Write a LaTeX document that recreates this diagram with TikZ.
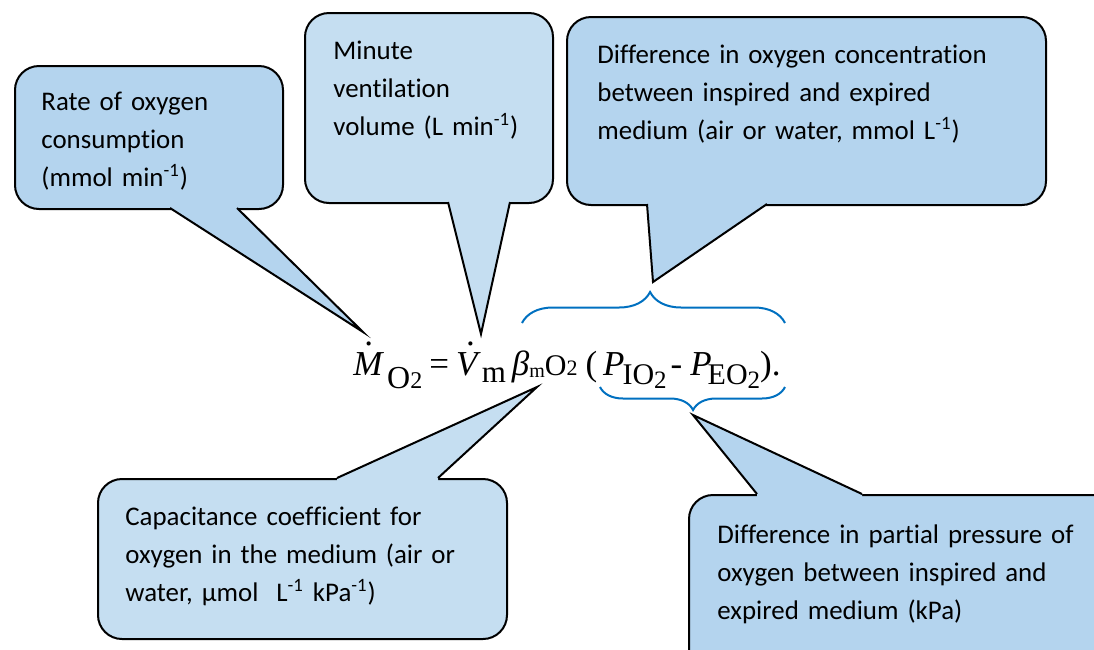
\documentclass[tikz,border=0pt]{standalone}
\usepackage{fontspec}
\setmainfont[Ligatures=NoCommon]{Carlito}
\newfontfamily\eqfont{Liberation Serif}
\usetikzlibrary{decorations.pathreplacing}

\definecolor{calloutblue}{RGB}{180,212,238}
\definecolor{calloutpale}{RGB}{197,222,241}
\definecolor{braceblue}{RGB}{0,112,192}

% a lowered piece of the equation: drop, size, text
\newcommand{\lowered}[3]{\raisebox{-#1}{\fontsize{#2}{#2}\selectfont #3}}
% a dot over a letter: kern, letter
\newcommand{\dotover}[2]{\rlap{\kern#1\raisebox{15pt}{.}}\textit{#2}}
% pointer of a callout: fill colour, base, tip, base, inward shift
\newcommand{\pointer}[5]{%
  \fill[#1] (#2) -- (#3) -- (#4) -- ([yshift=#5]#4) -- ([yshift=#5]#2) -- cycle;
  \draw[line width=1pt, line join=miter] (#2) -- (#3) -- (#4);
}

\begin{document}
\begin{tikzpicture}[x=0.5pt, y=-0.5pt,
  callbox/.style={draw=black, line width=1pt, rounded corners=12pt, inner sep=0pt, anchor=north west},
  calltext/.style={text width=#1, align=left, anchor=base west, inner sep=0pt, font=\fontsize{13.45}{19.2}\selectfont},
  curly/.style={draw=braceblue, line width=1pt, decorate}
]
\useasboundingbox (0,0) rectangle (1094,649);
\clip (0,0) rectangle (1094,649);

% boxes
\node [callbox, fill=calloutblue, minimum width=134pt, minimum height=71.5pt] (rate) at (14,65) {};
\node [callbox, fill=calloutpale, minimum width=124pt, minimum height=95pt] (minute) at (304,12) {};
\node [callbox, fill=calloutblue, minimum width=239.5pt, minimum height=94pt] (diff) at (566,16) {};
\node [callbox, fill=calloutpale, minimum width=204.5pt, minimum height=80pt] (capac) at (97,478) {};
\node [callbox, fill=calloutblue, minimum width=215pt, minimum height=90pt] (partial) at (688,494) {};

% pointer tips and bases
\coordinate (ratetip) at (363,332);
\coordinate (minutetip) at (481,334);
\coordinate (difftip) at (653,282);
\coordinate (capactip) at (537,387);
\coordinate (partialtip) at (693,415);

\pointer{calloutblue}{170,208}{ratetip}{237,208}{1.5pt}
\pointer{calloutpale}{448,202}{minutetip}{510,202}{1.5pt}
\pointer{calloutblue}{647,204}{difftip}{767,204}{1.5pt}
\pointer{calloutpale}{337,478}{capactip}{438,478}{-1.5pt}
\pointer{calloutblue}{757,494}{partialtip}{862,494}{-1.5pt}

% texts
\node [calltext=125pt] (ratetxt) at ([shift={(27,45)}]rate.north west)
  {Rate of oxygen\\ consumption\\ (mmol min\textsuperscript{-1})};
\node [calltext=118pt] (minutetxt) at ([shift={(29,47)}]minute.north west)
  {Minute\\ ventilation\\ volume (L min\textsuperscript{-1})};
\node [calltext=235pt] (difftxt) at ([shift={(31,47)}]diff.north west)
  {Difference in oxygen concentration\\ between inspired and expired\\ medium (air or water, mmol L\textsuperscript{-1})};
\node [calltext=200pt] (capactxt) at ([shift={(28,47)}]capac.north west)
  {Capacitance coefficient for\\ oxygen in the medium (air or\\ water, µmol\ \ L\textsuperscript{-1} kPa\textsuperscript{-1})};
\node [calltext=200pt] (partialtxt) at ([shift={(29,49)}]partial.north west)
  {Difference in partial pressure of\\ oxygen between inspired and\\ expired medium (kPa)};

% equation
\node [anchor=base west, inner sep=0pt, font=\eqfont\fontsize{17.5}{20}\selectfont] (eqn) at (353,375)
  {\dotover{5.5pt}{M}\kern1.5pt\lowered{6.5pt}{16}{O{\fontsize{12}{12}\selectfont 2}}%
   \kern3.5pt=\kern3.5pt\dotover{5pt}{V}\kern0.5pt\lowered{3.5pt}{15.5}{m}\kern3pt
   \textit{β}\lowered{1pt}{10}{m}{\fontsize{15}{15}\selectfont O}{\fontsize{11}{10}\selectfont 2}\kern4pt(\kern3pt%
   \textit{P}\kern-1pt\lowered{4.5pt}{15}{IO\raisebox{-2pt}{\fontsize{12.5}{12}\selectfont 2}}\kern2pt-\kern4pt%
   \textit{P}\kern-2pt\lowered{4.5pt}{15}{EO\raisebox{-2pt}{\fontsize{12.5}{12}\selectfont 2}}\kern0pt).};

% braces
\coordinate (topL) at (522,323);
\coordinate (topR) at (785,323);
\coordinate (botL) at (600,387);
\coordinate (botR) at (785,387);
\draw [curly, decoration={brace, amplitude=15.5pt, aspect=0.487}] (topL) -- (topR);
\draw [curly, decoration={brace, amplitude=11.5pt, aspect=0.497}] (botR) -- (botL);
\end{tikzpicture}
\end{document}
